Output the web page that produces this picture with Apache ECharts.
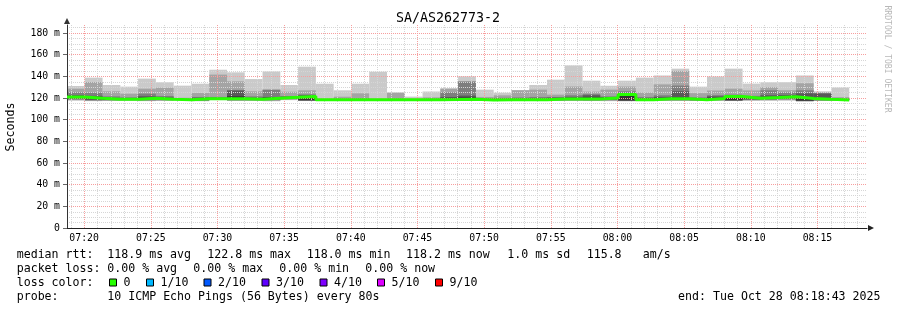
<!DOCTYPE html>
<html><head><meta charset="utf-8">
<script src="https://cdn.jsdelivr.net/npm/echarts@6/dist/echarts.min.js"></script>
<style>html,body{margin:0;padding:0;background:#fff}#c{width:897px;height:310px}</style>
</head><body><div id="c"></div>
<script>
const TITLE = 'SA/AS262773-2';
const START_SEC = 7 * 3600 + 18 * 60 + 43; // 07:18:43
const SPAN = 3600;   // seconds shown
const STEP = 80;     // probe interval (s)
const Y_MAX = 187.4;
const tickLabels = ['07:20','07:25','07:30','07:35','07:40','07:45','07:50','07:55','08:00','08:05','08:10','08:15'];
const yTicks = [0, 20, 40, 60, 80, 100, 120, 140, 160, 180];

// sorted ping RTTs per 80 s step (ms)
const ping10 = [131.1,138.8,132.0,130.5,137.9,134.5,131.4,133.2,146.1,143.7, 137.5,144.5,132.0,148.9,133.2,127.1,133.2,144.3,125.2,121.3, 126.0,129.0,140.0,127.7,124.9,127.4,132.0,136.9,150.1,136.0, 131.3,136.0,138.8,140.8,147.1,130.5,139.9,147.1,133.3,134.5, 134.6,140.8,126.2,129.7];
const ping9  = [128.6,134.8,126.2,124.0,128.6,129.5,120.2,124.6,141.6,135.4, 126.2,128.0,125.8,127.1,119.0,121.2,124.3,119.3,124.9,119.3, 120.6,128.6,135.5,121.0,122.5,127.1,127.7,123.1,130.6,125.9, 127.7,130.6,125.0,132.6,145.0,124.5,126.9,128.6,127.0,130.0, 127.2,133.6,125.0,120.8];
const ping8  = [125.2,124.9,121.5,120.6,124.0,121.9,119.2,121.0,121.0,127.5, 121.5,127.5,121.8,123.4,118.9,119.2,119.5,118.9,119.2,118.9, 119.4,125.2,135.1,119.8,120.2,120.5,121.0,121.0,122.5,123.6, 121.5,126.2,121.0,122.5,131.5,120.5,122.6,123.1,122.0,127.1, 125.1,127.1,124.8,119.6];
const ping7  = [122.6,122.0,120.0,119.7,121.6,120.5,118.9,120.2,120.0,126.8, 120.2,121.0,121.2,122.5,118.8,118.8,118.9,118.8,118.8,118.8, 118.9,121.0,122.2,119.0,119.3,119.5,119.6,120.3,121.0,122.5, 120.8,123.8,120.0,121.0,126.2,119.5,121.5,122.8,121.0,122.5, 122.8,124.3,124.0,119.0];
const ping6  = [121.6,120.4,119.3,119.2,120.4,119.5,118.7,119.8,119.6,121.5, 119.4,120.3,120.9,121.9,118.6,118.6,118.6,118.6,118.6,118.6, 118.7,119.0,120.5,118.6,118.8,118.9,119.0,119.6,119.6,120.5, 120.3,122.5,119.0,120.0,120.5,118.7,120.2,122.0,120.2,121.0, 121.8,120.5,119.5,118.7];
const ping5  = [120.3,119.0,118.4,118.4,119.0,118.5,118.3,118.7,119.1,118.6, 118.4,119.2,120.2,118.0,118.4,118.4,118.4,118.4,118.4,118.4, 118.4,118.4,118.5,118.1,118.1,118.1,118.1,118.5,118.6,118.5, 119.3,117.8,118.2,118.7,118.6,118.2,118.8,118.0,119.2,119.7, 120.3,117.6,118.3,118.1];
const ping4  = [119.4,118.3,118.1,118.2,118.4,118.2,118.2,118.1,118.8,118.2, 118.1,118.6,119.6,117.8,118.3,118.3,118.3,118.3,118.3,118.3, 118.3,118.3,118.2,118.0,118.0,118.0,118.0,118.1,118.2,118.1, 118.6,117.6,118.0,118.2,118.2,118.0,118.4,117.8,118.7,119.0, 119.6,117.4,118.0,118.0];
const ping3  = [118.6,117.8,117.9,118.0,117.8,117.9,118.1,117.6,118.5,117.9, 117.9,118.0,119.0,117.6,118.2,118.2,118.2,118.2,118.2,118.2, 118.2,118.2,118.0,117.9,117.9,117.9,117.9,117.8,117.9,117.8, 118.0,117.4,117.8,117.9,117.9,117.8,118.0,117.6,118.2,118.4, 118.8,117.2,117.8,117.9];
const ping2  = [118.0,117.4,117.7,117.8,117.4,117.7,118.0,117.3,118.3,117.6, 117.7,117.4,118.5,117.4,118.1,118.1,118.1,118.1,118.1,118.1, 118.1,118.1,117.8,117.8,117.8,117.8,117.8,117.5,117.6,117.5, 117.5,117.2,117.6,117.6,117.6,117.6,117.7,117.4,117.8,117.9, 118.1,117.0,117.6,117.8];
const ping1  = [117.6,117.1,117.5,117.6,117.1,117.5,117.9,117.0,118.1,117.3, 117.5,117.0,118.0,117.2,118.0,118.0,118.0,118.0,118.0,118.0, 118.0,118.0,117.6,117.7,117.7,117.7,117.7,117.2,117.3,117.2, 117.1,117.0,117.4,117.3,117.3,117.4,117.4,117.2,117.4,117.5, 117.5,116.8,117.4,117.7];
const median = [120.9,119.7,118.8,118.8,119.7,118.9,118.5,119.4,119.4,119.4, 118.8,119.7,120.6,121.5,118.5,118.5,118.5,118.5,118.5,118.5, 118.5,118.6,118.8,118.2,118.3,118.3,118.3,119.2,119.2,119.2, 119.9,123.2,118.5,119.4,119.4,118.4,119.5,121.4,119.7,120.4, 121.2,119.6,118.8,118.2];

// legend texts
const statsRtt = ['118.9 ms avg', '122.8 ms max', '118.0 ms min', '118.2 ms now', '1.0 ms sd', '115.8', 'am/s'];
const statsLoss = ['0.00 % avg', '0.00 % max', '0.00 % min', '0.00 % now'];
const lossLabels = ['0', '1/10', '2/10', '3/10', '4/10', '5/10', '9/10'];
const lossColors = ['#26ff00', '#00b8ff', '#0059ff', '#5e00ff', '#7e00ff', '#dd00ff', '#ff0000'];
const probeText = '10 ICMP Echo Pings (56 Bytes) every 80s';
const endText = 'end: Tue Oct 28 08:18:43 2025';

const MONO = "'DejaVu Sans Mono', monospace";
const GRID_MINOR = '#d6d6d6';
const GRID_MAJOR = '#f79e9e';
const bands = [
  { lo: ping1, hi: ping10, color: '#cacaca' },
  { lo: ping2, hi: ping9,  color: '#a4a4a4' },
  { lo: ping3, hi: ping8,  color: '#7e7e7e' },
  { lo: ping4, hi: ping7,  color: '#585858' },
  { lo: ping5, hi: ping6,  color: '#323232' }
];

function hhmm(sec) {
  const s = ((sec % 86400) + 86400) % 86400;
  const h = Math.floor(s / 3600), m = Math.floor((s % 3600) / 60);
  return String(h).padStart(2, '0') + ':' + String(m).padStart(2, '0');
}

const secCats = Array.from({ length: SPAN + 1 }, (_, i) => String(i));
// tenths of ms for minor horizontal grid
const yCats = Array.from({ length: Math.round(Y_MAX * 10) + 1 }, (_, i) => String(i));

const smokeSeries = bands.map((b) => ({
  type: 'custom',
  xAxisIndex: 0, yAxisIndex: 0,
  z: 1,
  silent: true,
  encode: { x: 0, y: [1, 2] },
  data: b.lo.map((v, k) => [k, v, b.hi[k]]),
  renderItem: function (params, api) {
    const k = api.value(0);
    const a = api.coord([k * STEP, api.value(2)]);
    const c = api.coord([(k + 1) * STEP, api.value(1)]);
    return { type: 'rect', shape: { x: a[0], y: a[1], width: c[0] - a[0], height: c[1] - a[1] }, style: { fill: b.color } };
  }
}));

const medianPts = median.map((m, k) => [k * STEP, m]);
medianPts.push([median.length * STEP, median[median.length - 1]]);

const graphic = [];
function txt(x, y, text, opts) {
  graphic.push(Object.assign({ type: 'text', x: x, y: y, silent: true,
    style: Object.assign({ text: text, font: '11.6px ' + MONO, fill: '#000', align: 'left', verticalAlign: 'middle' }, (opts && opts.style) || {}) },
    opts && opts.rotation !== undefined ? { rotation: opts.rotation } : {}));
}
txt(448, 19, TITLE, { style: { font: '13.3px ' + MONO, align: 'center' } });
txt(11, 127, 'Seconds', { rotation: Math.PI / 2, style: { align: 'center' } });
txt(887, 59, 'RRDTOOL / TOBI OETIKER', { rotation: -Math.PI / 2, style: { font: '8.1px ' + MONO, fill: '#b8b8b8', align: 'center' } });

const r1 = 255, r2 = 268.5, r3 = 282.5, r4 = 296.5;
txt(16.7, r1, 'median rtt:');
[107.3, 207.3, 306.7, 406, 507.3, 586.7, 642.7].forEach((x, i) => txt(x, r1, statsRtt[i]));
txt(16.7, r2, 'packet loss:');
[107.3, 193.3, 279.3, 365.3].forEach((x, i) => txt(x, r2, statsLoss[i]));
txt(16.7, r3, 'loss color:');
[109, 146, 203.5, 261.5, 319.5, 377, 435].forEach((x, i) => {
  graphic.push({ type: 'rect', silent: true, shape: { x: x + 0.5, y: r3 - 3.5, width: 7, height: 7 },
    style: { fill: lossColors[i], stroke: '#000', lineWidth: 1 } });
  txt(x + 14.5, r3, lossLabels[i]);
});
txt(16.7, r4, 'probe:');
txt(107.3, r4, probeText);
txt(880.5, r4, endText, { style: { align: 'right' } });

const chart = echarts.init(document.getElementById('c'), null, { renderer: 'canvas' });
chart.setOption({
  animation: false,
  backgroundColor: '#ffffff',
  grid: { left: 67, top: 25, width: 800, height: 203, containLabel: false },
  xAxis: [
    { type: 'value', min: 0, max: SPAN, show: false },
    { type: 'category', data: secCats, boundaryGap: false, position: 'bottom', z: 3,
      axisLine: { show: false }, axisTick: { show: false }, axisLabel: { show: false },
      splitLine: { show: true, interval: (i) => (START_SEC + i) % 60 === 0 && (START_SEC + i) % 300 !== 0,
        lineStyle: { color: GRID_MINOR, width: 1, type: [1, 1] } } },
    { type: 'category', data: secCats, boundaryGap: false, position: 'bottom', z: 4,
      axisLine: { show: true, lineStyle: { color: '#222', width: 1 }, symbol: ['none', 'triangle'], symbolSize: [6, 6], symbolOffset: [0, 4] },
      axisTick: { show: false },
      axisLabel: { interval: (i) => (START_SEC + i) % 300 === 0, formatter: (v) => hhmm(START_SEC + Number(v)),
        fontFamily: MONO, fontSize: 9.8, color: '#000', margin: 5 },
      splitLine: { show: true, interval: (i) => (START_SEC + i) % 300 === 0, lineStyle: { color: GRID_MAJOR, width: 1, type: [1, 1] } } }
  ],
  yAxis: [
    { type: 'value', min: 0, max: Y_MAX, interval: 20, z: 4,
      axisLine: { show: true, lineStyle: { color: '#333', width: 1 }, symbol: ['none', 'triangle'], symbolSize: [6, 6], symbolOffset: [0, 4] },
      axisTick: { show: true, length: 4, lineStyle: { color: '#666' } },
      axisLabel: { formatter: (v) => (v === 0 ? '0' : v + ' m'), fontFamily: MONO, fontSize: 9.8, color: '#000', margin: 7, showMaxLabel: false },
      splitLine: { show: true, showMaxLine: false, showMinLine: false, lineStyle: { color: GRID_MAJOR, width: 1, type: [1, 1] } } },
    { type: 'category', data: yCats, boundaryGap: false, z: 3,
      axisLine: { show: false }, axisTick: { show: false }, axisLabel: { show: false },
      splitLine: { show: true, interval: (i) => i > 0 && i % 50 === 0 && i % 200 !== 0, lineStyle: { color: GRID_MINOR, width: 1, type: [1, 1] } } }
  ],
  series: smokeSeries.concat([{
    type: 'line', xAxisIndex: 0, yAxisIndex: 0, z: 6, step: 'end', symbol: 'none', silent: true,
    data: medianPts, lineStyle: { color: '#26ff00', width: 3 }
  }]),
  graphic: graphic
});
</script></body></html>
